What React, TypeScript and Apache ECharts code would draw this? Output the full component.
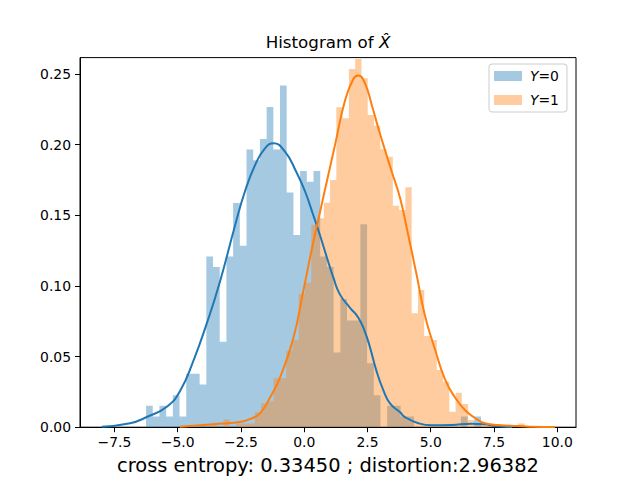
import React, { useEffect, useRef } from "react";
import * as echarts from "echarts";

// ---- histogram of Y=0 (density per bin) ----
const BLUE_START = -6.25;
const BLUE_WIDTH = 0.2647;
const blueDensity = [
  0.0151, 0.0076, 0.0151, 0.0076, 0.0227, 0.0076, 0.0378, 0.0378, 0.0302, 0.1209,
  0.1133, 0.0604, 0.1209, 0.1587, 0.1285, 0.1965, 0.1889, 0.204, 0.2267, 0.1965,
  0.2418, 0.1662, 0.136, 0.1813, 0.1738, 0.1813, 0.1209, 0.1133, 0.0529, 0.0907,
  0.0756, 0.0756, 0.1436, 0.0453, 0.0227, 0, 0.0151, 0.0151, 0.0076, 0.0076,
  0, 0, 0, 0, 0, 0, 0, 0.0076, 0, 0.0076,
];

// ---- histogram of Y=1 (density per bin) ----
const ORANGE_START = -3.69;
const ORANGE_WIDTH = 0.248;
const orangeDensity = [
  0.0027, 0, 0.0054, 0, 0.0027, 0.0027, 0.0027, 0.0106, 0.017, 0.0184,
  0.0347, 0.0347, 0.0541, 0.0617, 0.0943, 0.1023, 0.1431, 0.1479, 0.1589, 0.175,
  0.2265, 0.2186, 0.2535, 0.2606, 0.247, 0.221, 0.2134, 0.1967, 0.1915, 0.1568,
  0.1537, 0.1698, 0.0806, 0.0971, 0.0646, 0.0617, 0.0405, 0.0322, 0.011, 0.0244,
  0.0164, 0.0051, 0.0027, 0.0027, 0.0027, 0, 0, 0, 0, 0.0027,
];

// ---- KDE curves ----
const blueKdeX = [
  -8.0, -6.88, -6.22, -5.43, -4.91, -4.38, -3.85, -3.33, -2.73, -2.34, -1.94, -1.55,
  -1.21, -0.76, -0.32, 0.03, 0.36, 0.62, 0.89, 1.15, 1.41, 1.81, 2.14, 2.4,
  2.6, 2.86, 3.13, 3.39, 3.79, 3.98, 4.51, 5.04, 5.83, 6.62, 7.14, 7.54, 8.21,
];
const blueKdeY = [
  0.0004, 0.0028, 0.0072, 0.0145, 0.0255, 0.047, 0.0735, 0.103, 0.143, 0.167, 0.1856, 0.1974,
  0.2009, 0.195, 0.181, 0.167, 0.15, 0.136, 0.1205, 0.106, 0.094, 0.0845, 0.0775, 0.0675,
  0.0565, 0.0395, 0.026, 0.0168, 0.0105, 0.0072, 0.0028, 0.0013, 0.0016, 0.0025, 0.002, 0.0008, 0.0002,
];
const orangeKdeX = [
  -4.91, -3.59, -2.54, -2.14, -1.75, -1.35, -0.96, -0.43, -0.04, 0.3, 0.62, 0.82,
  1.22, 1.61, 1.94, 2.14, 2.4, 2.67, 2.93, 3.19, 3.46, 3.79, 4.11, 4.44, 4.77,
  5.17, 5.56, 5.96, 6.35, 6.75, 7.14, 7.67, 8.46, 8.92, 9.91,
];
const orangeKdeY = [
  0.0004, 0.0021, 0.0037, 0.0058, 0.0098, 0.021, 0.035, 0.063, 0.096, 0.126, 0.152, 0.168,
  0.2, 0.231, 0.2465, 0.249, 0.2434, 0.2281, 0.2116, 0.1962, 0.1808, 0.162, 0.136, 0.108, 0.079,
  0.055, 0.0341, 0.021, 0.0122, 0.0065, 0.0028, 0.0016, 0.0008, 0.0004, 0.0001,
];

const X_TICKS = [-7.5, -5, -2.5, 0, 2.5, 5, 7.5, 10];
const Y_TICKS = [0, 0.05, 0.1, 0.15, 0.2, 0.25];
const LABELS = ["Y=0", "Y=1"];
const TITLE = "Histogram of ";
const XLABEL = "cross entropy: 0.33450 ; distortion:2.96382";

const FONT = "DejaVu Sans";
const BLUE = "#1f77b4";
const ORANGE = "#ff7f0e";
const BLUE_FILL = "rgba(31,119,180,0.4)";
const ORANGE_FILL = "rgba(255,127,14,0.4)";

function stepData(start: number, width: number, dens: number[]) {
  const pts: number[][] = dens.map((d, i) => [start + i * width, d]);
  pts.push([start + dens.length * width, dens[dens.length - 1]]);
  return pts;
}

const fmtMinus = (v: number, digits: number) =>
  v < 0 ? "\u2212" + Math.abs(v).toFixed(digits) : v.toFixed(digits);

export default function App() {
  const ref = useRef<HTMLDivElement>(null);
  useEffect(() => {
    if (!ref.current) return;
    const chart = echarts.init(ref.current, null, { renderer: "svg" });
    const tickStyle = { color: "#000", width: 1 };
    const histSeries = (name: string, start: number, width: number, dens: number[], fill: string) => ({
      name,
      type: "line",
      step: "end",
      data: stepData(start, width, dens),
      showSymbol: false,
      symbol: "none",
      lineStyle: { width: 0, opacity: 0 },
      areaStyle: { color: fill, opacity: 1, origin: "start" },
      itemStyle: { color: fill },
      z: 1,
      silent: true,
    });
    const kdeSeries = (name: string, xs: number[], ys: number[], color: string) => ({
      name,
      type: "line",
      data: xs.map((x, i) => [x, ys[i]]),
      smooth: 0.5,
      showSymbol: false,
      symbol: "none",
      lineStyle: { color, width: 2 },
      itemStyle: { color },
      z: 3,
      silent: true,
    });
    chart.setOption({
      animation: false,
      textStyle: { fontFamily: FONT },
      grid: {
        left: 80,
        top: 57.6,
        right: 64,
        bottom: 52.8,
        show: true,
        borderColor: "#000",
        borderWidth: 1,
        backgroundColor: "transparent",
        containLabel: false,
        outerBoundsMode: "none",
      },
      xAxis: {
        type: "value",
        min: -8.86,
        max: 10.74,
        splitLine: { show: false },
        axisLine: { show: true, onZero: false, lineStyle: tickStyle },
        axisTick: { show: true, length: 5, lineStyle: tickStyle, customValues: X_TICKS },
        axisLabel: {
          customValues: X_TICKS,
          formatter: (v: number) => fmtMinus(v, 1),
          color: "#000",
          fontSize: 13.9,
          fontFamily: FONT,
          margin: 8,
        },
      },
      yAxis: {
        type: "value",
        min: 0,
        max: 0.2616,
        splitLine: { show: false },
        axisLine: { show: true, onZero: false, lineStyle: tickStyle },
        axisTick: { show: true, length: 5, lineStyle: tickStyle, customValues: Y_TICKS },
        axisLabel: {
          customValues: Y_TICKS,
          formatter: (v: number) => v.toFixed(2),
          color: "#000",
          fontSize: 13.9,
          fontFamily: FONT,
          margin: 9,
        },
      },
      legend: {
        orient: "vertical",
        left: 489,
        top: 64,
        itemWidth: 28,
        itemHeight: 10,
        itemGap: 10,
        padding: [5, 8, 5, 5],
        backgroundColor: "rgba(255,255,255,0.8)",
        borderColor: "#cccccc",
        borderWidth: 1,
        borderRadius: 3,
        selectedMode: false,
        data: [
          { name: LABELS[0], icon: "rect", itemStyle: { color: BLUE_FILL } },
          { name: LABELS[1], icon: "rect", itemStyle: { color: ORANGE_FILL } },
        ],
        formatter: (name: string) => `{i|${name.charAt(0)}}{n|${name.slice(1)}}`,
        textStyle: {
          color: "#000",
          fontSize: 13.9,
          fontFamily: FONT,
          padding: [0, 0, 0, 3],
          rich: {
            i: { fontStyle: "italic", fontSize: 13.9, fontFamily: FONT, color: "#000" },
            n: { fontSize: 13.9, fontFamily: FONT, color: "#000" },
          },
        },
      },
      graphic: [
        {
          type: "text",
          x: 328,
          y: 42,
          silent: true,
          style: {
            text: `{n|${TITLE}}{i|X\u0302}`,
            align: "center",
            verticalAlign: "middle",
            fill: "#000",
            rich: {
              n: { fontSize: 16.7, fontFamily: FONT, fill: "#000" },
              i: { fontSize: 16.7, fontFamily: FONT, fontStyle: "italic", fill: "#000" },
            },
          },
        },
        {
          type: "text",
          x: 328,
          y: 465,
          silent: true,
          style: {
            text: XLABEL,
            align: "center",
            verticalAlign: "middle",
            fontSize: 19.44,
            fontFamily: FONT,
            fill: "#000",
          },
        },
      ],
      series: [
        histSeries(LABELS[0], BLUE_START, BLUE_WIDTH, blueDensity, BLUE_FILL),
        histSeries(LABELS[1], ORANGE_START, ORANGE_WIDTH, orangeDensity, ORANGE_FILL),
        kdeSeries("kde0", blueKdeX, blueKdeY, BLUE),
        kdeSeries("kde1", orangeKdeX, orangeKdeY, ORANGE),
      ],
    });
    return () => chart.dispose();
  }, []);
  return (
    <div
      ref={ref}
      style={{ position: "absolute", left: 0, top: 0, width: 640, height: 480, background: "#fff" }}
    />
  );
}
